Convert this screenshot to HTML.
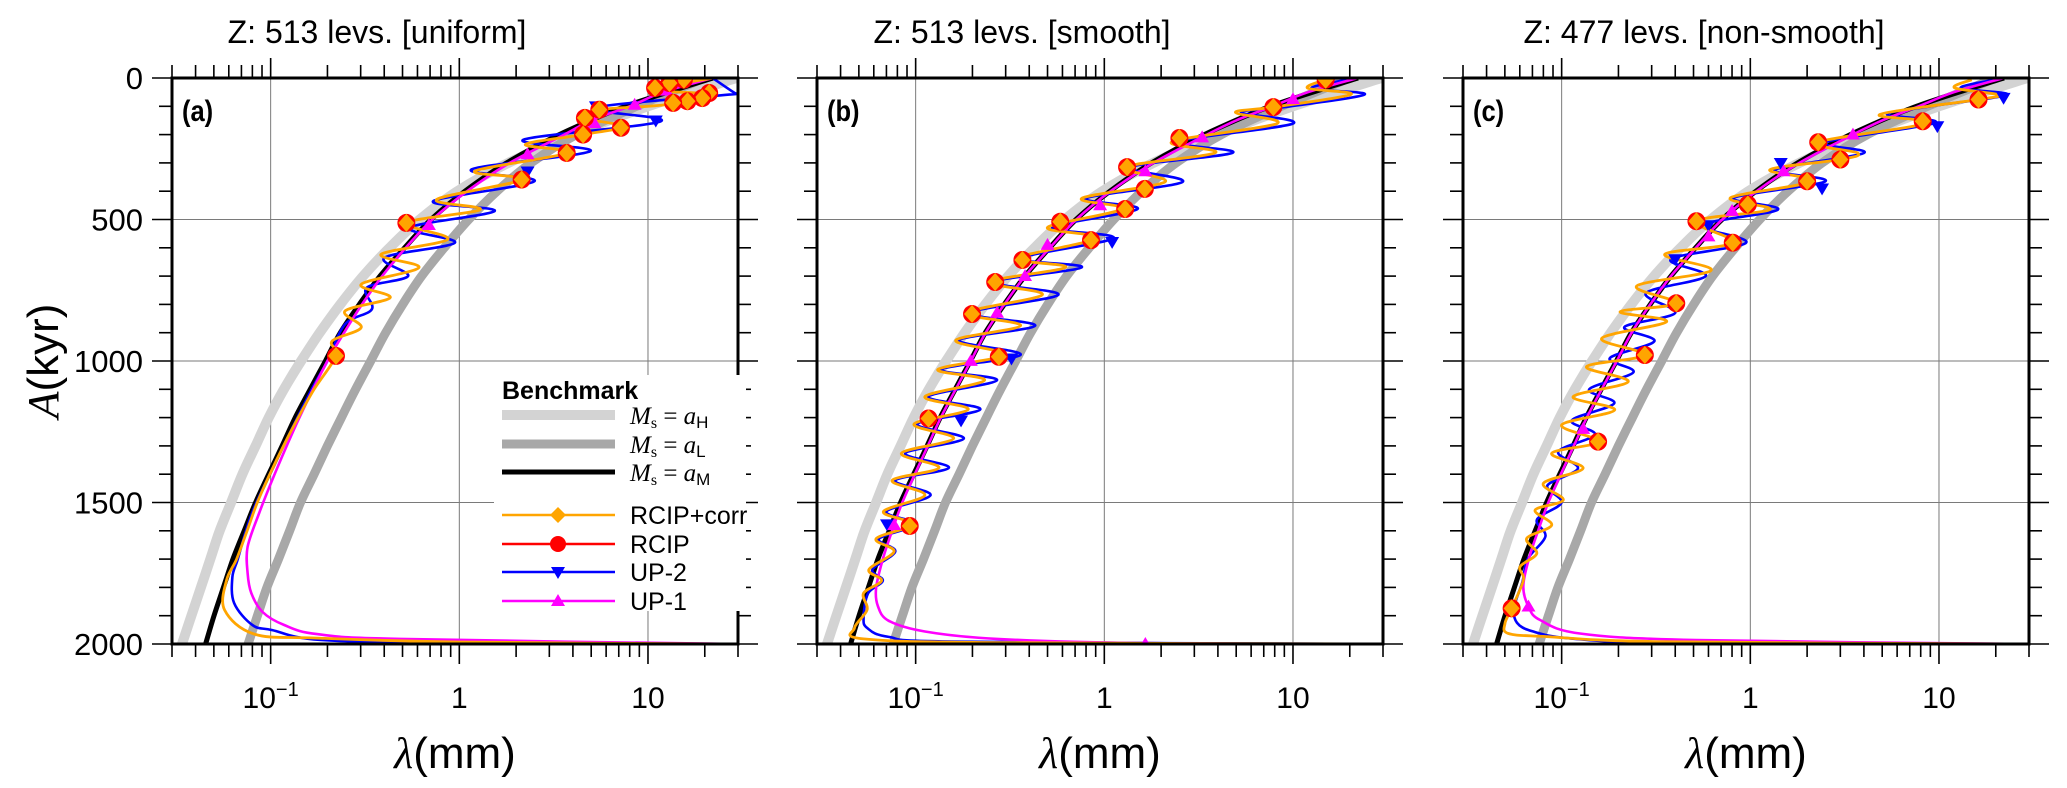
<!DOCTYPE html>
<html><head><meta charset="utf-8"><style>
html,body{margin:0;padding:0;background:#fff;}
svg{display:block;font-family:"Liberation Sans",sans-serif;}
</style></head><body>
<svg id="chart" width="2067" height="788" viewBox="0 0 2067 788" xmlns="http://www.w3.org/2000/svg"></svg>
<script>
// ---------- data ----------
const ageAM=[0,100,200,300,400,500,600,700,800,900,1000,1100,1200,1300,1400,1500,1600,1700,1800,1900,2000];
const lamAM=[22.1,7.59,3.39,1.78,1.07,0.708,0.513,0.380,0.295,0.234,0.195,0.162,0.135,0.115,0.0977,0.0832,0.0724,0.0631,0.0562,0.0501,0.0452];
const ageAHL=[0,100,200,300,400,500,600,700,800,900,1000,1100,1200,1300,1400,1500,1600,1700,1800,1900,2000];
const lamAH=[29.5,10.0,3.98,1.82,0.977,0.617,0.427,0.309,0.234,0.182,0.145,0.1175,0.0977,0.0832,0.0708,0.0617,0.0537,0.0479,0.0427,0.038,0.0339];
const lamAL=[20,8.7,4.17,2.4,1.585,1.122,0.832,0.631,0.501,0.407,0.339,0.282,0.237,0.200,0.170,0.144,0.126,0.110,0.0955,0.0851,0.0759];

// panel (a)
const ageOrA=[0,41,59,94,112,141,171,200,235,265,329,359,429,465,512,570,623,670,729,776,823,882,929,982,1100,1200,1300,1400,1500,1600,1700,1774,1880,1965,1979,1993,2000];
const lamOrA=[22.1,10.9,21.1,12.5,5.52,4.53,7.35,4.53,2.24,3.71,1.21,2.14,0.76,1.29,0.524,0.869,0.385,0.611,0.302,0.43,0.248,0.302,0.212,0.222,0.17,0.14,0.117,0.099,0.085,0.075,0.066,0.0584,0.057,0.082,0.176,1.0,30];
const ageMkA=[6,18,35,53,71,82,88,112,141,176,200,265,359,512,982];
const lamMkA=[15.5,13.0,10.9,21.1,19.4,16.2,13.6,5.52,4.63,7.19,4.53,3.71,2.14,0.524,0.222];
const ageBlA=[0,53,56,106,153,218,259,323,365,435,470,529,582,635,700,741,817,870,1000,1100,1300,1500,1600,1700,1763,1855,1933,1951,1986,1995,2000];
const lamBlA=[22,28.8,30,5.17,11.7,2.19,4.94,1.16,2.5,0.728,1.54,0.547,0.948,0.402,0.535,0.323,0.344,0.248,0.2,0.165,0.117,0.084,0.074,0.067,0.0627,0.064,0.080,0.102,0.185,1.0,30];
const ageBlMkA=[100,150,330];
const lamBlMkA=[5.3,11.0,2.3];
const ageMgA=[0,50,100,150,200,300,400,500,600,700,800,900,1000,1200,1400,1537,1657,1749,1820,1887,1933,1965,1982,2000];
const lamMgA=[22,12,8.0,5.0,3.6,1.85,1.1,0.72,0.52,0.39,0.305,0.245,0.2,0.142,0.105,0.087,0.0755,0.0755,0.079,0.0906,0.118,0.176,0.485,30];
const ageMgMkA=[45,95,160,270,520];
const lamMgMkA=[12.5,8.5,5.2,2.3,0.69];

// panel (b)
const ageOrB=[6,36,58,103,122,161,225,264,315,367,425,463,528,566,637,669,721,766,830,875,927,978,1030,1068,1126,1171,1223,1274,1326,1377,1422,1474,1532,1577,1628,1673,1737,1776,1821,1879,1943,1982,1995,2000];
const lamOrB=[14.9,11.96,20.3,7.87,4.95,8.22,2.29,3.88,1.29,2.10,0.76,1.24,0.50,0.91,0.344,0.624,0.247,0.469,0.186,0.36,0.163,0.295,0.131,0.232,0.112,0.19,0.098,0.159,0.084,0.133,0.075,0.112,0.0675,0.096,0.0617,0.0769,0.0565,0.066,0.0529,0.0553,0.0474,0.053,0.27,30];
const ageMkB=[6,103,212,315,392,463,508,573,643,721,834,985,1203,1583];
const lamMkB=[14.9,7.87,2.5,1.32,1.64,1.29,0.584,0.85,0.368,0.264,0.199,0.276,0.117,0.093];
const ageBlB=[0,36,58,103,122,161,225,264,315,367,425,463,528,566,637,669,721,766,830,875,927,978,1030,1068,1126,1171,1223,1274,1326,1377,1422,1474,1532,1577,1628,1673,1737,1776,1821,1905,1943,1975,1992,2000];
const lamBlB=[22,12.5,24,9,5.3,10.0,2.45,4.8,1.38,2.6,0.8,1.5,0.53,1.12,0.36,0.76,0.26,0.57,0.195,0.43,0.17,0.36,0.137,0.27,0.117,0.22,0.102,0.18,0.088,0.15,0.078,0.12,0.07,0.1,0.064,0.078,0.059,0.067,0.056,0.053,0.0553,0.072,0.174,30];
const ageBlMkB=[579,991,1210,1577];
const lamBlMkB=[1.1,0.322,0.174,0.0705];
const ageMgB=[0,50,100,150,200,300,400,500,600,700,800,900,1000,1100,1200,1300,1400,1500,1600,1700,1802,1866,1918,1956,1982,1997,2000];
const lamMgB=[22,12,7.8,5.0,3.5,1.82,1.08,0.71,0.515,0.38,0.295,0.235,0.196,0.163,0.136,0.116,0.099,0.085,0.075,0.067,0.0617,0.0631,0.072,0.112,0.27,1.57,30];
const ageMgMkB=[75,210,330,450,590,700,830,1000,1580,2000];
const lamMgMkB=[10,3.3,1.65,0.95,0.5,0.38,0.27,0.196,0.077,1.65];

// panel (c)
const ageOrC=[6,35,59,76,129,159,227,265,288,324,365,423,465,506,582,623,680,735,796,826,861,920,979,1020,1073,1126,1173,1226,1285,1326,1379,1432,1491,1527,1580,1627,1680,1727,1774,1874,1927,1963,1974,1992,2000];
const lamOrC=[14.9,12.1,20.6,16.2,4.85,8.75,2.29,3.71,3.0,1.27,2.12,0.786,1.27,0.518,0.807,0.352,0.62,0.25,0.405,0.204,0.36,0.163,0.276,0.1355,0.2254,0.115,0.191,0.1,0.156,0.0886,0.130,0.080,0.102,0.0723,0.0886,0.0653,0.0738,0.0602,0.0627,0.0543,0.0501,0.0522,0.0834,0.345,30];
const ageMkC=[76,153,227,288,365,447,506,582,796,979,1285,1874];
const lamMkC=[16.2,8.2,2.29,3.0,2.0,0.97,0.518,0.807,0.405,0.276,0.156,0.0543];
const ageBlC=[0,35,59,100,129,159,227,265,324,365,423,465,520,582,640,700,760,830,880,930,990,1040,1100,1150,1210,1260,1320,1380,1440,1500,1560,1620,1700,1780,1870,1925,1955,1980,1995,2000];
const lamBlC=[22,13,23,9,5.3,9.5,2.5,4.0,1.35,2.5,0.82,1.4,0.56,0.95,0.38,0.58,0.28,0.40,0.215,0.31,0.18,0.24,0.14,0.19,0.113,0.15,0.096,0.122,0.084,0.1,0.074,0.082,0.066,0.062,0.056,0.058,0.07,0.11,0.35,30];
const ageBlMkC=[70,170,300,390,520,640];
const lamBlMkC=[22,9.8,1.45,2.4,0.6,0.4];
const ageMgC=[0,50,100,150,200,300,400,500,600,700,800,900,1000,1100,1200,1300,1400,1500,1600,1700,1797,1868,1915,1963,1986,2000];
const lamMgC=[22,12,7.8,5.0,3.5,1.82,1.08,0.71,0.515,0.38,0.295,0.235,0.196,0.163,0.136,0.116,0.099,0.085,0.075,0.067,0.0626,0.0667,0.0767,0.125,0.517,30];
const ageMgMkC=[200,330,470,560,1240,1868];
const lamMgMkC=[3.5,1.5,0.8,0.6,0.13,0.0667];

const yTickLabels=['0','500','1000','1500','2000'];
const yTickValues=[0,500,1000,1500,2000];
const xMajorValues=[0.1,1,10];
const panelTitles=['Z:  513 levs. [uniform]','Z:  513 levs. [smooth]','Z:  477 levs. [non-smooth]'];
const panelLetters=['(a)','(b)','(c)'];

// ---------- layout ----------
const NS='http://www.w3.org/2000/svg';
const svg=document.getElementById('chart');
const TOP=78,BOT=644,W=566,XMIN=0.03,XMAX=30;
const PX=[172,817,1463];
const titleX=[377,1022,1704];
function mk(tag,attrs,parent){const e=document.createElementNS(NS,tag);for(const k in attrs)e.setAttribute(k,attrs[k]);(parent||svg).appendChild(e);return e;}
function xs(x0,v){return x0+(Math.log10(v)-Math.log10(XMIN))/(Math.log10(XMAX)-Math.log10(XMIN))*W;}
function ys(a){return TOP+a/2000*(BOT-TOP);}
function smooth(pts){
  let d='M'+pts[0][0].toFixed(1)+','+pts[0][1].toFixed(1);
  for(let i=0;i<pts.length-1;i++){
    const p0=pts[i-1]||pts[i],p1=pts[i],p2=pts[i+1],p3=pts[i+2]||pts[i+1];
    const c1=[p1[0]+(p2[0]-p0[0])/6,p1[1]+(p2[1]-p0[1])/6];
    const c2=[p2[0]-(p3[0]-p1[0])/6,p2[1]-(p3[1]-p1[1])/6];
    d+='C'+c1[0].toFixed(1)+','+c1[1].toFixed(1)+' '+c2[0].toFixed(1)+','+c2[1].toFixed(1)+' '+p2[0].toFixed(1)+','+p2[1].toFixed(1);
  }
  return d;
}
function series(g,x0,ages,lams,color,width,name){
  const pts=ages.map((a,i)=>[xs(x0,lams[i]),ys(a)]);
  const p=mk('path',{d:smooth(pts),fill:'none',stroke:color,'stroke-width':width,'stroke-linejoin':'round'},g);
  
  
  return p;
}
function diamond(g,x,y,name){
  const c=mk('circle',{cx:x,cy:y,r:9,fill:'#ff0000'},g);
  
  
  const d=mk('path',{d:`M${x},${y-9}L${x+8},${y}L${x},${y+9}L${x-8},${y}Z`,fill:'#ffa500'},g);
  
  
}
function tri(g,x,y,up,color,name){
  const s=7;
  const d=up?`M${x},${y-s}L${x+s},${y+s*0.7}L${x-s},${y+s*0.7}Z`:`M${x},${y+s}L${x+s},${y-s*0.7}L${x-s},${y-s*0.7}Z`;
  const t=mk('path',{d:d,fill:color},g);
  
  
}

const panelData=[
 {or:[ageOrA,lamOrA],mk:[ageMkA,lamMkA],bl:[ageBlA,lamBlA],blm:[ageBlMkA,lamBlMkA],mg:[ageMgA,lamMgA],mgm:[ageMgMkA,lamMgMkA]},
 {or:[ageOrB,lamOrB],mk:[ageMkB,lamMkB],bl:[ageBlB,lamBlB],blm:[ageBlMkB,lamBlMkB],mg:[ageMgB,lamMgB],mgm:[ageMgMkB,lamMgMkB]},
 {or:[ageOrC,lamOrC],mk:[ageMkC,lamMkC],bl:[ageBlC,lamBlC],blm:[ageBlMkC,lamBlMkC],mg:[ageMgC,lamMgC],mgm:[ageMgMkC,lamMgMkC]}
];

const defs=mk('defs',{});
PX.forEach((x0,pi)=>{
  const cp=mk('clipPath',{id:'clip'+pi},defs);
  mk('rect',{x:x0,y:TOP,width:W,height:BOT-TOP},cp);
});

PX.forEach((x0,pi)=>{
  const L=panelLetters[pi][1];
  const g=mk('g',{});
  
  
  const grid=mk('g',{stroke:'#7a7a7a','stroke-width':1},g);
  
  
  xMajorValues.forEach(v=>{mk('line',{x1:xs(x0,v),x2:xs(x0,v),y1:TOP,y2:BOT},grid);});
  yTickValues.forEach(v=>{mk('line',{x1:x0,x2:x0+W,y1:ys(v),y2:ys(v)},grid);});
  const tk=mk('g',{stroke:'#000','stroke-width':1.6},g);
  
  
  for(let d=-2;d<=1;d++)for(let m=1;m<=9;m++){
    const v=m*Math.pow(10,d); if(v<XMIN*0.999||v>XMAX*1.001)continue;
    const x=xs(x0,v),len=(m===1)?20:13;
    mk('line',{x1:x,x2:x,y1:TOP,y2:TOP-len},tk);
    mk('line',{x1:x,x2:x,y1:BOT,y2:BOT+len},tk);
  }
  for(let a=0;a<=2000;a+=100){
    const y=ys(a),len=(a%500===0)?20:13;
    mk('line',{x1:x0,x2:x0-len,y1:y,y2:y},tk);
    mk('line',{x1:x0+W,x2:x0+W+len,y1:y,y2:y},tk);
  }
  const sg=mk('g',{'clip-path':`url(#clip${pi})`},g);
  
  
  series(sg,x0,ageAHL,lamAH,'#d3d3d3',10,'benchmark-aH');
  series(sg,x0,ageAHL,lamAL,'#a8a8a8',9,'benchmark-aL');
  series(sg,x0,ageAM,lamAM,'#000000',5,'benchmark-aM');
  const D=panelData[pi];
  series(sg,x0,D.bl[0],D.bl[1],'#0000ff',2.6,'up2-line');
  series(sg,x0,D.mg[0],D.mg[1],'#ff00ff',2.6,'up1-line');
  series(sg,x0,D.or[0],D.or[1],'#ffa500',2.8,'rcip-corr-line');
  D.blm[0].forEach((a,i)=>tri(sg,xs(x0,D.blm[1][i]),ys(a),false,'#0000ff','up2-marker'));
  D.mgm[0].forEach((a,i)=>tri(sg,xs(x0,D.mgm[1][i]),ys(a),true,'#ff00ff','up1-marker'));
  D.mk[0].forEach((a,i)=>diamond(sg,xs(x0,D.mk[1][i]),ys(a),'rcip-corr-marker'));
  const sp=mk('rect',{x:x0,y:TOP,width:W,height:BOT-TOP,fill:'none',stroke:'#000','stroke-width':3},g);
  
  
  const lt=mk('text',{x:x0+10,y:TOP+43,'font-size':30,'font-weight':'bold',fill:'#000',transform:`translate(${x0+10},0) scale(0.85,1) translate(${-(x0+10)},0)`},g);
  lt.textContent=panelLetters[pi];
  
  
  const tt=mk('text',{x:titleX[pi],y:43,'font-size':32,'text-anchor':'middle',fill:'#000'},g);
  tt.textContent=panelTitles[pi];
  
  
  const xl=[['10','−1'],['1',''],['10','']];
  xMajorValues.forEach((v,i)=>{
    const t=mk('text',{x:xs(x0,v),y:708,'font-size':30,'text-anchor':'middle',fill:'#000'},g);
    
    
    t.appendChild(document.createTextNode(xl[i][0]));
    if(xl[i][1]){const s=mk('tspan',{dy:-12,'font-size':20},t);s.textContent=xl[i][1];}
  });
  const xt=mk('text',{x:x0+W/2,y:768,'font-size':44,'text-anchor':'middle',fill:'#000'},g);
  
  
  const lam=mk('tspan',{'font-family':'Liberation Serif, serif','font-style':'italic'},xt);lam.textContent='λ';
  const mm=mk('tspan',{},xt);mm.textContent='(mm)';
});

yTickValues.forEach((v,i)=>{
  const t=mk('text',{x:143,y:ys(v)+11,'font-size':31,'text-anchor':'end',fill:'#000'});
  t.textContent=yTickLabels[i];
  
  
});
const yt=mk('text',{x:0,y:0,'font-size':44,'text-anchor':'middle',fill:'#000',transform:'translate(58,361) rotate(-90)'});


const ya=mk('tspan',{'font-family':'Liberation Serif, serif','font-style':'italic'},yt);ya.textContent='A';
const yk=mk('tspan',{},yt);yk.textContent='(kyr)';

const lg=mk('g',{});


mk('rect',{x:494,y:375,width:252,height:236,fill:'#fff'},lg);
const lh=mk('text',{x:502,y:399,'font-size':25,'font-weight':'bold',fill:'#000'},lg);
lh.textContent='Benchmark';


const bench=[['#d3d3d3',10,'H',415],['#a8a8a8',9,'L',444],['#000',5,'M',472]];
bench.forEach(b=>{
  const e=mk('g',{},lg);
  
  
  mk('line',{x1:502,x2:615,y1:b[3],y2:b[3],stroke:b[0],'stroke-width':b[1]},e);
  const t=mk('text',{x:630,y:b[3]+9,'font-size':25,fill:'#000','font-family':'Liberation Serif, serif'},e);
  const m1=mk('tspan',{'font-style':'italic'},t);m1.textContent='M';
  const m2=mk('tspan',{'font-size':16,dy:4},t);m2.textContent='s';
  const m3=mk('tspan',{dy:-4},t);m3.textContent=' = ';
  const m4=mk('tspan',{'font-style':'italic'},t);m4.textContent='a';
  const m5=mk('tspan',{'font-size':17,dy:4,'font-family':'Liberation Sans, sans-serif'},t);m5.textContent=b[2];
});
const ent=[['#ffa500','RCIP+corr',515,'dia'],['#ff0000','RCIP',544,'circ'],['#0000ff','UP-2',572,'down'],['#ff00ff','UP-1',601,'up']];
ent.forEach(b=>{
  const e=mk('g',{},lg);
  
  
  mk('line',{x1:502,x2:615,y1:b[2],y2:b[2],stroke:b[0],'stroke-width':2.6},e);
  const cx=558,cy=b[2];
  if(b[3]==='dia')mk('path',{d:`M${cx},${cy-8}L${cx+8},${cy}L${cx},${cy+8}L${cx-8},${cy}Z`,fill:b[0]},e);
  if(b[3]==='circ')mk('circle',{cx:cx,cy:cy,r:8,fill:b[0]},e);
  if(b[3]==='down')mk('path',{d:`M${cx},${cy+7}L${cx+7},${cy-5}L${cx-7},${cy-5}Z`,fill:b[0]},e);
  if(b[3]==='up')mk('path',{d:`M${cx},${cy-7}L${cx+7},${cy+5}L${cx-7},${cy+5}Z`,fill:b[0]},e);
  const t=mk('text',{x:630,y:b[2]+9,'font-size':25,fill:'#000'},e);
  t.textContent=b[1];
});
</script>
</body></html>
